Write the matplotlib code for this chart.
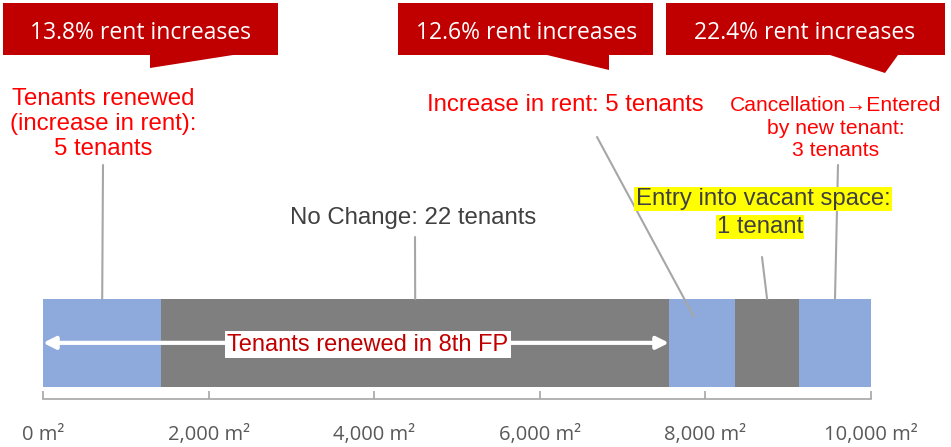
import matplotlib
matplotlib.use('Agg')
import matplotlib.pyplot as plt
from matplotlib.patches import Polygon

# segment widths along the floor (m2), left to right
segments = [1430, 6130, 800, 770, 870]
seg_colors = ['#8EA9DB', '#7F7F7F', '#8EA9DB', '#7F7F7F', '#8EA9DB']
ticks = [0, 2000, 4000, 6000, 8000, 10000]
tick_labels = ['0 m²', '2,000 m²', '4,000 m²', '6,000 m²', '8,000 m²', '10,000 m²']

callout_texts = ['13.8% rent increases', '12.6% rent increases', '22.4% rent increases']
seg_notes = ['Tenants renewed\n(increase in rent):\n5 tenants',
             'No Change: 22 tenants',
             'Increase in rent: 5 tenants',
             'Entry into vacant space:\n1 tenant',
             'Cancellation→Entered\nby new tenant:\n3 tenants']
renewed_span = 7560  # blue + grey part renewed in 8th FP

W, H = 951, 447
RED = '#C00000'
LINE = '#A6A6A6'


def fpx(x, y):
    # pixel (from top-left) to figure fraction
    return (x / W, 1 - y / H)


fig = plt.figure(figsize=(W / 100, H / 100), dpi=100)
ax = fig.add_axes([43 / W, 48 / H, 828 / W, 100 / H])

lefts = [sum(segments[:i]) for i in range(len(segments))]
ax.barh(0, segments, left=lefts, height=1.0, color=seg_colors, edgecolor='none')
ax.set_xlim(0, 10000)
ax.set_ylim(-0.64, 0.5)

for s in ['top', 'right', 'left']:
    ax.spines[s].set_visible(False)
ax.spines['bottom'].set_color(LINE)
ax.spines['bottom'].set_linewidth(1.2)
ax.set_yticks([])
ax.set_xticks(ticks)
ax.set_xticklabels(tick_labels, fontsize=14.5, color='#595959', family='Open Sans')
ax.tick_params(axis='x', direction='in', length=6, width=1.2, color=LINE, pad=19)

# white double arrow with label over the renewed part
ax.annotate('', xy=(0, 0), xytext=(renewed_span, 0),
            arrowprops=dict(arrowstyle='<|-|>', color='white', lw=3,
                            mutation_scale=18, shrinkA=0, shrinkB=0))
ax.text(3925, -0.02, 'Tenants renewed in 8th FP', ha='center', va='center',
        fontsize=17, color=RED, family='Liberation Sans',
        bbox=dict(facecolor='white', edgecolor='none', pad=2))

# red callout boxes with tails
boxes = [
    [(3, 3), (278, 3), (278, 55), (233, 55), (150, 68), (150, 55), (3, 55)],
    [(398, 3), (653, 3), (653, 55), (609, 55), (609, 70), (547, 55), (398, 55)],
    [(666, 3), (945, 3), (945, 55), (898, 55), (885, 73), (830, 55), (666, 55)],
]
box_centers = [(141, 33), (527, 33), (805, 33)]
for pts, txt, c in zip(boxes, callout_texts, box_centers):
    fig.patches.append(Polygon([fpx(*p) for p in pts], closed=True,
                               transform=fig.transFigure, facecolor=RED,
                               edgecolor='none'))
    fig.text(*fpx(*c), txt, ha='center', va='center', color='white',
             fontsize=16.5, family='Open Sans')

# notes
fig.text(*fpx(103, 124), seg_notes[0], ha='center', va='center', color='red',
         fontsize=17.3, family='Liberation Sans', linespacing=1.2)
fig.text(*fpx(413, 218), seg_notes[1], ha='center', va='center', color='#404040',
         fontsize=17.3, family='Liberation Sans')
fig.text(*fpx(565, 105), seg_notes[2], ha='center', va='center', color='red',
         fontsize=17.3, family='Liberation Sans')
entry1, entry2 = seg_notes[3].split('\n')
fig.text(*fpx(763, 199), entry1, ha='center', va='center', color='#404040',
         fontsize=17.2, family='Liberation Sans',
         bbox=dict(facecolor='#FFFF00', edgecolor='none', pad=0.8))
fig.text(*fpx(760, 227), entry2, ha='center', va='center', color='#404040',
         fontsize=17.2, family='Liberation Sans',
         bbox=dict(facecolor='#FFFF00', edgecolor='none', pad=0.8))
fig.text(*fpx(836, 128), seg_notes[4], ha='center', va='center', color='red',
         fontsize=15.2, family=['Liberation Sans', 'DejaVu Sans'], linespacing=1.25)

# leader lines from notes to segment midpoints
mids = [l + w / 2 for l, w in zip(lefts, segments)]
leaders = [(mids[0], 0.5, (103, 165)),
           (mids[1], 0.5, (415, 237)),
           (mids[2] - 100, 0.3, (597, 137)),
           (mids[3], 0.5, (762, 257)),
           (mids[4], 0.5, (838, 165))]
for xd, yd, p in leaders:
    ax.annotate('', xy=(xd, yd), xycoords='data', xytext=fpx(*p),
                textcoords='figure fraction',
                arrowprops=dict(arrowstyle='-', color=LINE, lw=1.5,
                                shrinkA=0, shrinkB=0))

fig.savefig('out.png', dpi=100)
